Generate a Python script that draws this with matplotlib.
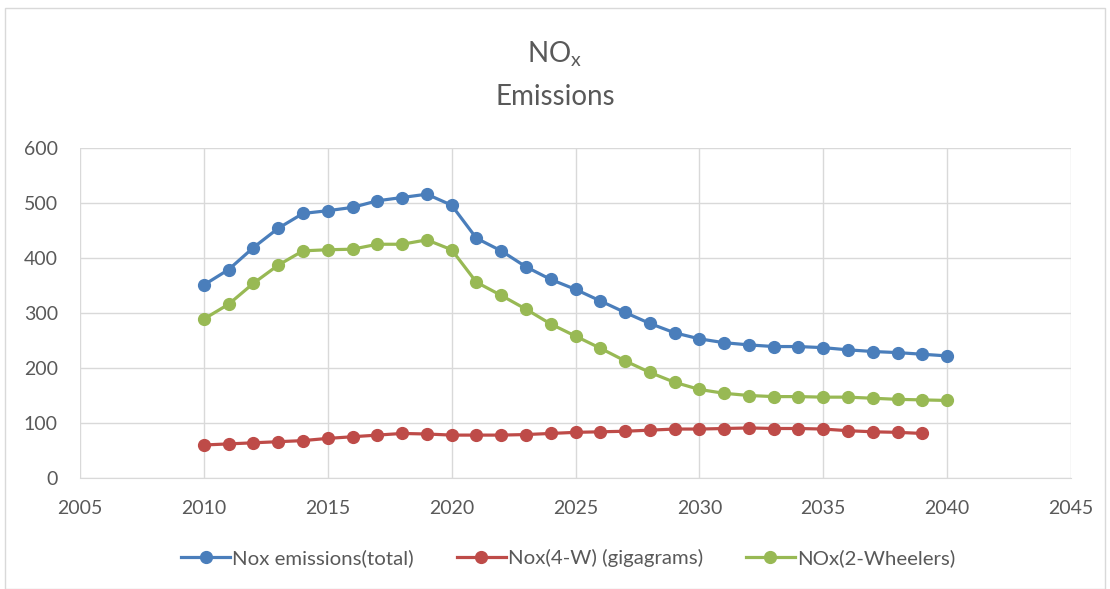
import matplotlib
matplotlib.use("Agg")
import matplotlib.pyplot as plt
from matplotlib.patches import Rectangle

plt.rcParams['font.family'] = ['Lato', 'DejaVu Sans']

years_total = list(range(2010, 2041))
nox_total = [351, 379, 419, 454, 481, 486, 492, 504, 510, 516, 496, 436, 413, 384, 361, 343,
             322, 301, 281, 264, 253, 246, 242, 239, 239, 237, 233, 230, 228, 225, 222]

years_4w = list(range(2010, 2040))
nox_4w = [60, 62, 64, 66, 68, 72, 75, 78, 81, 80, 78, 78, 78, 79, 81, 83,
          84, 85, 87, 89, 89, 90, 91, 90, 90, 89, 86, 84, 83, 81]

years_2w = list(range(2010, 2041))
nox_2w = [289, 316, 354, 387, 413, 415, 416, 425, 425, 433, 415, 356, 332, 307, 280, 258,
          236, 213, 192, 174, 161, 154, 150, 148, 148, 147, 147, 145, 143, 142, 141]

labels = ['Nox emissions(total)', 'Nox(4-W) (gigagrams)', 'NOx(2-Wheelers)']
colors = ['#4A7EBB', '#BE4B48', '#98B954']
x_ticks = [2005, 2010, 2015, 2020, 2025, 2030, 2035, 2040, 2045]
y_ticks = [0, 100, 200, 300, 400, 500, 600]

fig = plt.figure(figsize=(11.10, 5.89), dpi=100)
fig.patches.append(Rectangle((5/1110, 0.0), 1 - 10/1110, 1 - 8/589, transform=fig.transFigure,
                             fill=False, edgecolor='#D9D9D9', linewidth=1.0))
ax = fig.add_axes([80/1110, 1 - 478/589, (1071 - 80)/1110, (478 - 148)/589])

for xs, ys, lab, c in zip([years_total, years_4w, years_2w], [nox_total, nox_4w, nox_2w], labels, colors):
    ax.plot(xs, ys, color=c, linewidth=2.3, marker='o', markersize=8.5, label=lab, zorder=3)

ax.set_xlim(2005, 2045)
ax.set_ylim(0, 600)
ax.set_xticks(x_ticks)
ax.set_yticks(y_ticks)
ax.grid(True, color='#D9D9D9', linewidth=1.0, zorder=0)
for s in ['top', 'right', 'left']:
    ax.spines[s].set_visible(False)
ax.spines['bottom'].set_color('#D9D9D9')
ax.tick_params(axis='both', length=0, labelsize=14, colors='#595959')
ax.tick_params(axis='x', pad=16)
ax.tick_params(axis='y', pad=16)

fig.text(0.5, 1 - 62/589, 'NO$_\\mathregular{x}$', ha='center', va='baseline', fontsize=20, color='#595959')
fig.text(0.5, 1 - 105/589, 'Emissions', ha='center', va='baseline', fontsize=20, color='#595959')

fig.legend(loc='center', bbox_to_anchor=(568/1110, 1 - 558/589), ncol=3, frameon=False,
           fontsize=14.7, labelcolor='#595959', handlelength=2.4, columnspacing=2.1, handletextpad=0.1)

fig.savefig('out.png', dpi=100)
